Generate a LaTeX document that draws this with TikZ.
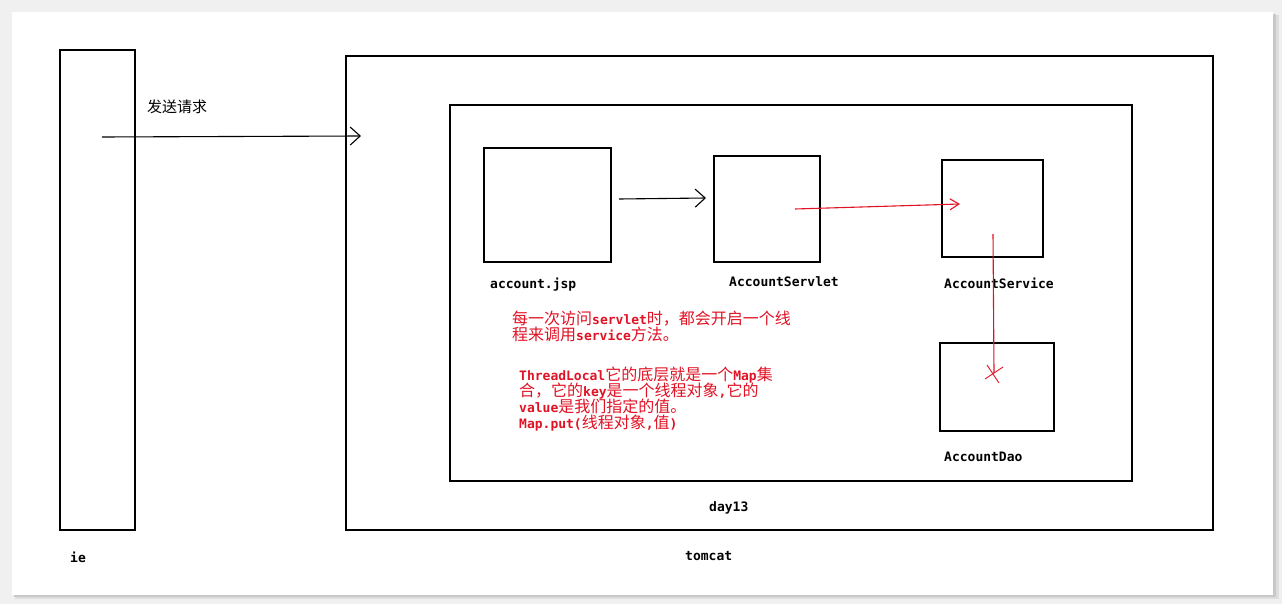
\documentclass[tikz,border=0pt]{standalone}
\usepackage{fontspec}
\setmonofont{DejaVu Sans Mono}
\newfontfamily\cjk{Noto Sans CJK SC}
\usetikzlibrary{arrows.meta}
\definecolor{bggray}{RGB}{240,240,240}
\definecolor{shadowgray}{RGB}{200,200,200}
\definecolor{inkred}{RGB}{225,18,36}
\newcommand\lat[1]{{\ttfamily\bfseries\fontsize{13}{16}\selectfont #1}}
\tikzset{
  box/.style={draw=black, line width=1.3pt, rectangle, inner sep=0pt, outer sep=0pt},
  lbl/.style={inner sep=0pt, font=\ttfamily\bfseries\fontsize{13}{16}\selectfont, anchor=base west},
  redtxt/.style={inner sep=0pt, text=inkred, font=\cjk\fontsize{16}{16}\selectfont, anchor=base west},
  blkarrow/.style={draw=black, line width=1.1pt, -{Straight Barb[length=10pt,width=18pt,line width=1.1pt]}},
  redarrow/.style={draw=inkred, line width=1.1pt, -{Straight Barb[length=9pt,width=11pt,line width=1.1pt]}},
  redline/.style={draw=inkred, line width=1.1pt}
}
\begin{document}
\begin{tikzpicture}[x=1pt,y=-1pt]
\useasboundingbox (0,0) rectangle (1282,604);
\fill[bggray] (0,0) rectangle (1282,604);
\fill[shadowgray!60] (15,15) rectangle (1279,599);
\fill[shadowgray] (14,14) rectangle (1276,597);
\fill[white] (12,12) rectangle (1273,595);

% boxes
\node[box, minimum width=75, minimum height=480] (ie) at (97.5,290) {};
\node[box, minimum width=867, minimum height=474] (tomcat) at (779.5,293) {};
\node[box, minimum width=682, minimum height=376] (day) at (791,293) {};
\node[box, minimum width=127, minimum height=114] (jsp) at (547.5,205) {};
\node[box, minimum width=106, minimum height=106] (servlet) at (767,209) {};
\node[box, minimum width=101, minimum height=97] (service) at (992.5,208.5) {};
\node[box, minimum width=114, minimum height=88] (dao) at (997,387) {};

% labels
\node[lbl] (ieL) at (70,562) {ie};
\node[lbl] (tomcatL) at (685,560) {tomcat};
\node[lbl] (dayL) at (709,511) {day13};
\node[lbl] (jspL) at (490,288) {account.jsp};
\node[lbl] (servletL) at (729,286) {AccountServlet};
\node[lbl] (serviceL) at (944,288) {AccountService};
\node[lbl] (daoL) at (944,461) {AccountDao};
\node[inner sep=0pt, font=\cjk\fontsize{15}{15}\selectfont] (reqL) at (177,107) {发送请求};

% red notes
\node[redtxt] (n1) at (512,324) {每一次访问\lat{servlet}时，都会开启一个线};
\node[redtxt] (n2) at (512,340) {程来调用\lat{service}方法。};
\node[redtxt] (m1) at (519,380) {\lat{ThreadLocal}它的底层就是一个\lat{Map}集};
\node[redtxt] (m2) at (519,396) {合，它的\lat{key}是一个线程对象\lat{,}它的};
\node[redtxt] (m3) at (519,412) {\lat{value}是我们指定的值。};
\node[redtxt] (m4) at (519,428) {\lat{Map.put(}线程对象\lat{,}值\lat{)}};

% connector end points
\coordinate (reqS) at (102,137);
\coordinate (reqE) at (361,136);
\coordinate (jspS) at (619,199);
\coordinate (servletE) at (706,198);
\coordinate (servletS) at (795,209);
\coordinate (serviceE) at (960,204);
\coordinate (serviceS) at (993,234);
\coordinate (daoHit) at (994,373);

\draw[blkarrow] (reqS) -- (reqE);
\draw[blkarrow] (jspS) -- (servletE);
\draw[redarrow] (servletS) -- (serviceE);
\draw[redline] (serviceS) -- (daoHit);
\draw[redline, line width=0.9pt] (daoHit) +(-9,6) -- +(9,-6);
\draw[redline, line width=0.9pt] (daoHit) +(-7,-8) -- +(5,10);
\end{tikzpicture}
\end{document}
